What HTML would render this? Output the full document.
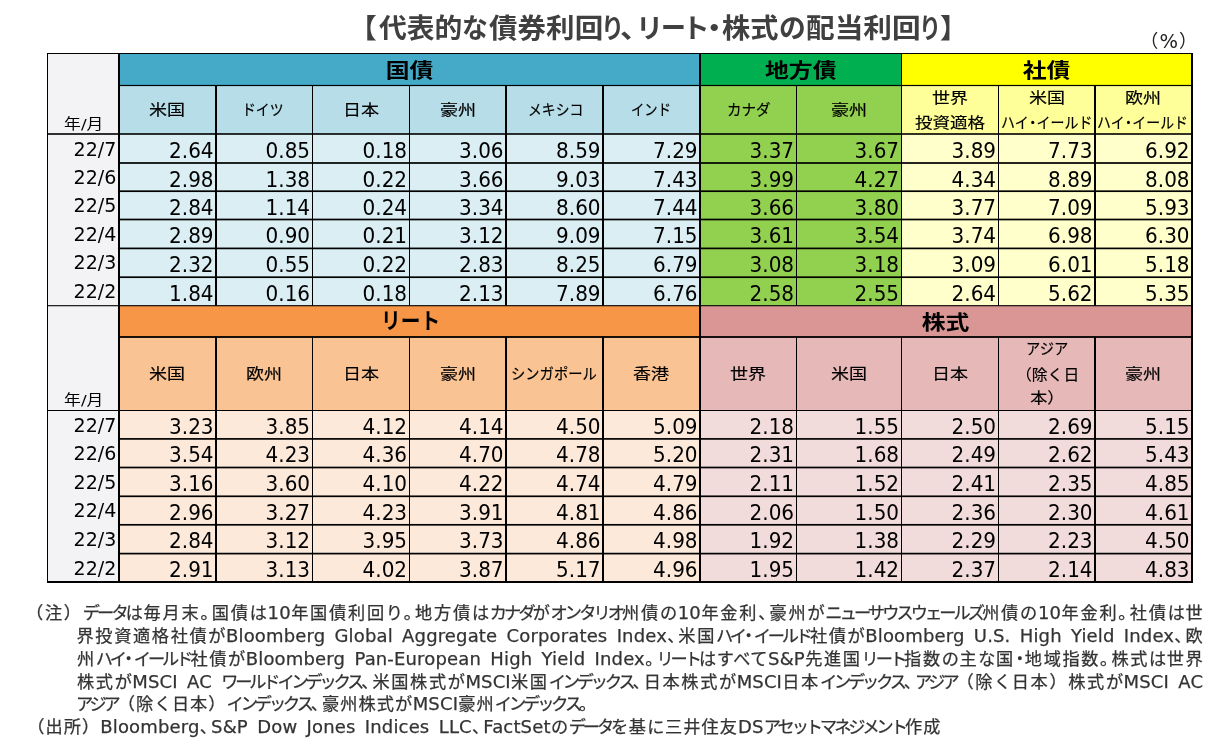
<!DOCTYPE html>
<html lang="ja"><head><meta charset="utf-8"><title>代表的な債券利回り、リート・株式の配当利回り</title>
<style>
html,body{margin:0;padding:0;background:#fff}
body{width:1229px;height:751px;position:relative;overflow:hidden;font-family:"DejaVu Sans","Liberation Sans","Noto Sans CJK JP",sans-serif;color:#000}
svg{position:absolute;left:0;top:0}
.band{position:absolute;display:flex;align-items:center;justify-content:center;font-weight:bold;font-size:22.5px;white-space:nowrap}
.band>div{position:relative;top:-0.4px;transform:scale(1.06,.9)}
.hl{-webkit-text-stroke:0.2px #000;position:absolute;height:25px;line-height:25px;font-size:17px;white-space:nowrap;transform-origin:0 50%}
.bl{position:absolute;height:30px;line-height:30px;font-size:22.5px;font-weight:bold;white-space:nowrap;transform-origin:0 50%}
.ym{position:absolute;text-align:center;font-size:15px;line-height:20px;white-space:nowrap;transform:scale(1.12,.95);transform-origin:50% 100%;margin-top:0.5px}
.yr{position:absolute;text-align:right;font-size:18.5px;white-space:nowrap;transform:scale(1.03,1.06);transform-origin:100% 28%;margin-left:0.7px}
.n{position:absolute;text-align:right;font-size:20px;white-space:nowrap;margin-top:2.55px;transform:scale(1.0,1.025);transform-origin:100% 100%}
.title{position:absolute;left:0;top:8.7px;height:40px;font-weight:bold;font-size:27px;line-height:40px;color:#404040;white-space:nowrap}
.title span{position:absolute;top:0;transform-origin:0 0}
.md{margin:0 -0.22em;letter-spacing:0}
.kn{letter-spacing:-3.3px}
.l{font-size:18px;letter-spacing:0.15px;word-spacing:3.2px}
.p{letter-spacing:-6.2px}
.hr{letter-spacing:0.3px}
.pp{font-size:18px;position:relative;top:-0.7px}
.pct{position:absolute;left:1140.3px;top:29.5px;width:56px;text-align:center;font-size:19.5px;line-height:24px;color:#222;white-space:nowrap}
.note{position:absolute;height:24px;line-height:24px;font-size:17.2px;letter-spacing:0.8px;color:#333;-webkit-text-stroke:0.25px #333;white-space:nowrap;text-align:justify;text-align-last:justify}
</style></head><body>
<svg width="1229" height="751" viewBox="0 0 1229 751" shape-rendering="auto">
<rect x="47.50" y="53.50" width="71.50" height="528.50" fill="#F3F3F5"/>
<rect x="119.00" y="53.50" width="581.00" height="32.00" fill="#45AAC7"/>
<rect x="119.00" y="85.50" width="581.00" height="48.50" fill="#B7DEE8"/>
<rect x="119.00" y="134.00" width="581.00" height="171.70" fill="#DAEEF3"/>
<rect x="700.00" y="53.50" width="201.50" height="32.00" fill="#00B050"/>
<rect x="700.00" y="85.50" width="201.50" height="48.50" fill="#92D050"/>
<rect x="700.00" y="134.00" width="201.50" height="171.70" fill="#92D050"/>
<rect x="901.50" y="53.50" width="290.50" height="32.00" fill="#FFFF00"/>
<rect x="901.50" y="85.50" width="290.50" height="48.50" fill="#FFFF99"/>
<rect x="901.50" y="134.00" width="290.50" height="171.70" fill="#FFFFCC"/>
<rect x="119.00" y="305.70" width="581.00" height="31.30" fill="#F79646"/>
<rect x="119.00" y="337.00" width="581.00" height="73.50" fill="#FAC394"/>
<rect x="119.00" y="410.50" width="581.00" height="171.50" fill="#FDE9D9"/>
<rect x="700.00" y="305.70" width="492.00" height="31.30" fill="#D99694"/>
<rect x="700.00" y="337.00" width="492.00" height="73.50" fill="#E6B8B7"/>
<rect x="700.00" y="410.50" width="492.00" height="171.50" fill="#F2DCDB"/>
<rect x="47.00" y="53.00" width="1146.00" height="1.00" fill="#000"/>
<rect x="119.00" y="84.90" width="1073.00" height="1.20" fill="#000"/>
<rect x="47.50" y="133.20" width="1144.50" height="1.60" fill="#000"/>
<rect x="119.00" y="162.15" width="1073.00" height="1.70" fill="#000"/>
<rect x="119.00" y="190.35" width="1073.00" height="1.70" fill="#000"/>
<rect x="119.00" y="218.65" width="1073.00" height="1.70" fill="#000"/>
<rect x="119.00" y="247.55" width="1073.00" height="1.70" fill="#000"/>
<rect x="119.00" y="276.35" width="1073.00" height="1.70" fill="#000"/>
<rect x="47.50" y="305.15" width="1144.50" height="1.10" fill="#000"/>
<rect x="119.00" y="336.10" width="1073.00" height="1.80" fill="#000"/>
<rect x="47.50" y="410.00" width="1144.50" height="1.00" fill="#000"/>
<rect x="119.00" y="438.05" width="1073.00" height="1.70" fill="#000"/>
<rect x="119.00" y="466.65" width="1073.00" height="1.70" fill="#000"/>
<rect x="119.00" y="495.45" width="1073.00" height="1.70" fill="#000"/>
<rect x="119.00" y="523.95" width="1073.00" height="1.70" fill="#000"/>
<rect x="119.00" y="552.75" width="1073.00" height="1.70" fill="#000"/>
<rect x="47.00" y="581.00" width="1146.00" height="2.00" fill="#000"/>
<rect x="47.00" y="53.00" width="1.00" height="530.00" fill="#000"/>
<rect x="118.00" y="53.50" width="2.00" height="528.50" fill="#000"/>
<rect x="1191.00" y="53.00" width="2.00" height="530.00" fill="#000"/>
<rect x="215.00" y="85.50" width="2.00" height="220.20" fill="#000"/>
<rect x="215.00" y="337.00" width="2.00" height="245.00" fill="#000"/>
<rect x="312.00" y="85.50" width="1.00" height="220.20" fill="#000"/>
<rect x="312.00" y="337.00" width="1.00" height="245.00" fill="#000"/>
<rect x="409.00" y="85.50" width="1.00" height="220.20" fill="#000"/>
<rect x="409.00" y="337.00" width="1.00" height="245.00" fill="#000"/>
<rect x="505.00" y="85.50" width="2.00" height="220.20" fill="#000"/>
<rect x="505.00" y="337.00" width="2.00" height="245.00" fill="#000"/>
<rect x="602.00" y="85.50" width="2.00" height="220.20" fill="#000"/>
<rect x="602.00" y="337.00" width="2.00" height="245.00" fill="#000"/>
<rect x="699.00" y="53.50" width="2.00" height="528.50" fill="#000"/>
<rect x="796.00" y="85.50" width="1.00" height="220.20" fill="#000"/>
<rect x="796.00" y="337.00" width="1.00" height="245.00" fill="#000"/>
<rect x="901.00" y="53.50" width="1.00" height="252.20" fill="#000"/>
<rect x="901.00" y="337.00" width="1.00" height="245.00" fill="#000"/>
<rect x="998.00" y="85.50" width="1.00" height="220.20" fill="#000"/>
<rect x="998.00" y="337.00" width="1.00" height="245.00" fill="#000"/>
<rect x="1094.00" y="85.50" width="2.00" height="220.20" fill="#000"/>
<rect x="1094.00" y="337.00" width="2.00" height="245.00" fill="#000"/>
</svg>
<div class="band" style="left:119.0px;top:53.5px;width:581.0px;height:32.0px"><div>国債</div></div>
<div class="band" style="left:700.0px;top:53.5px;width:201.5px;height:32.0px"><div>地方債</div></div>
<div class="band" style="left:901.5px;top:53.5px;width:290.5px;height:32.0px"><div>社債</div></div>
<div class="band" style="left:700.0px;top:305.7px;width:492.0px;height:31.3px"><div>株式</div></div>
<div class="bl" style="left:380.9px;top:306.05px;transform:scale(0.875,1.0)">リート</div>
<div class="hl" style="left:149.48px;top:97.80px;transform:scale(1.0600,0.9)">米国</div>
<div class="hl" style="left:242.32px;top:97.80px;transform:scale(0.8159,0.9)">ドイツ</div>
<div class="hl" style="left:342.98px;top:97.80px;transform:scale(1.0600,0.9)">日本</div>
<div class="hl" style="left:439.73px;top:97.80px;transform:scale(1.0600,0.9)">豪州</div>
<div class="hl" style="left:527.97px;top:97.80px;transform:scale(0.8143,0.9)">メキシコ</div>
<div class="hl" style="left:631.23px;top:97.80px;transform:scale(0.7851,0.9)">インド</div>
<div class="hl" style="left:727.29px;top:97.80px;transform:scale(0.8542,0.9)">カナダ</div>
<div class="hl" style="left:830.98px;top:97.80px;transform:scale(1.0600,0.9)">豪州</div>
<div class="hl" style="left:931.98px;top:85.70px;transform:scale(1.0600,0.9)">世界</div>
<div class="hl" style="left:914.98px;top:110.70px;transform:scale(1.0300,0.9)">投資適格</div>
<div class="hl" style="left:1028.73px;top:85.70px;transform:scale(1.0600,0.9)">米国</div>
<div class="hl" style="left:1001.25px;top:110.70px;transform:scale(0.8234,0.9)">ハイ<span class="md">・</span>イールド</div>
<div class="hl" style="left:1125.48px;top:85.70px;transform:scale(1.0600,0.9)">欧州</div>
<div class="hl" style="left:1097.36px;top:110.70px;transform:scale(0.8187,0.9)">ハイ<span class="md">・</span>イールド</div>
<div class="hl" style="left:149.48px;top:362.40px;transform:scale(1.0600,0.9)">米国</div>
<div class="hl" style="left:246.23px;top:362.40px;transform:scale(1.0600,0.9)">欧州</div>
<div class="hl" style="left:342.98px;top:362.40px;transform:scale(1.0600,0.9)">日本</div>
<div class="hl" style="left:439.73px;top:362.40px;transform:scale(1.0600,0.9)">豪州</div>
<div class="hl" style="left:633.48px;top:362.40px;transform:scale(1.0600,0.9)">香港</div>
<div class="hl" style="left:730.23px;top:362.40px;transform:scale(1.0600,0.9)">世界</div>
<div class="hl" style="left:830.98px;top:362.40px;transform:scale(1.0600,0.9)">米国</div>
<div class="hl" style="left:931.98px;top:362.40px;transform:scale(1.0600,0.9)">日本</div>
<div class="hl" style="left:1125.48px;top:362.40px;transform:scale(1.0600,0.9)">豪州</div>
<div class="hl" style="left:510.52px;top:362.40px;transform:scale(0.8414,0.9)">シンガポール</div>
<div class="hl" style="left:1025.72px;top:337.10px;transform:scale(0.8383,0.9)">アジア</div>
<div class="hl" style="left:1016.13px;top:362.90px;transform:scale(0.9300,0.9)">（除く日</div>
<div class="hl" style="left:1030.25px;top:385.70px;transform:scale(1.0000,0.9)">本）</div>
<div class="ym" style="left:47.5px;width:71.5px;top:113.0px">年/月</div>
<div class="ym" style="left:47.5px;width:71.5px;top:389.5px">年/月</div>
<div class="yr" style="left:47.5px;width:68.3px;top:134.0px;height:29.0px;line-height:29.0px">22/7</div>
<div class="n" style="left:119.0px;width:94.6px;top:134.0px;height:29.0px;line-height:29.0px">2.64</div>
<div class="n" style="left:216.0px;width:94.1px;top:134.0px;height:29.0px;line-height:29.0px">0.85</div>
<div class="n" style="left:312.5px;width:94.6px;top:134.0px;height:29.0px;line-height:29.0px">0.18</div>
<div class="n" style="left:409.5px;width:94.1px;top:134.0px;height:29.0px;line-height:29.0px">3.06</div>
<div class="n" style="left:506.0px;width:94.6px;top:134.0px;height:29.0px;line-height:29.0px">8.59</div>
<div class="n" style="left:603.0px;width:94.6px;top:134.0px;height:29.0px;line-height:29.0px">7.29</div>
<div class="n" style="left:700.0px;width:94.1px;top:134.0px;height:29.0px;line-height:29.0px">3.37</div>
<div class="n" style="left:796.5px;width:102.6px;top:134.0px;height:29.0px;line-height:29.0px">3.67</div>
<div class="n" style="left:901.5px;width:94.6px;top:134.0px;height:29.0px;line-height:29.0px">3.89</div>
<div class="n" style="left:998.5px;width:94.1px;top:134.0px;height:29.0px;line-height:29.0px">7.73</div>
<div class="n" style="left:1095.0px;width:94.6px;top:134.0px;height:29.0px;line-height:29.0px">6.92</div>
<div class="yr" style="left:47.5px;width:68.3px;top:163.0px;height:28.2px;line-height:28.2px">22/6</div>
<div class="n" style="left:119.0px;width:94.6px;top:163.0px;height:28.2px;line-height:28.2px">2.98</div>
<div class="n" style="left:216.0px;width:94.1px;top:163.0px;height:28.2px;line-height:28.2px">1.38</div>
<div class="n" style="left:312.5px;width:94.6px;top:163.0px;height:28.2px;line-height:28.2px">0.22</div>
<div class="n" style="left:409.5px;width:94.1px;top:163.0px;height:28.2px;line-height:28.2px">3.66</div>
<div class="n" style="left:506.0px;width:94.6px;top:163.0px;height:28.2px;line-height:28.2px">9.03</div>
<div class="n" style="left:603.0px;width:94.6px;top:163.0px;height:28.2px;line-height:28.2px">7.43</div>
<div class="n" style="left:700.0px;width:94.1px;top:163.0px;height:28.2px;line-height:28.2px">3.99</div>
<div class="n" style="left:796.5px;width:102.6px;top:163.0px;height:28.2px;line-height:28.2px">4.27</div>
<div class="n" style="left:901.5px;width:94.6px;top:163.0px;height:28.2px;line-height:28.2px">4.34</div>
<div class="n" style="left:998.5px;width:94.1px;top:163.0px;height:28.2px;line-height:28.2px">8.89</div>
<div class="n" style="left:1095.0px;width:94.6px;top:163.0px;height:28.2px;line-height:28.2px">8.08</div>
<div class="yr" style="left:47.5px;width:68.3px;top:191.2px;height:28.3px;line-height:28.3px">22/5</div>
<div class="n" style="left:119.0px;width:94.6px;top:191.2px;height:28.3px;line-height:28.3px">2.84</div>
<div class="n" style="left:216.0px;width:94.1px;top:191.2px;height:28.3px;line-height:28.3px">1.14</div>
<div class="n" style="left:312.5px;width:94.6px;top:191.2px;height:28.3px;line-height:28.3px">0.24</div>
<div class="n" style="left:409.5px;width:94.1px;top:191.2px;height:28.3px;line-height:28.3px">3.34</div>
<div class="n" style="left:506.0px;width:94.6px;top:191.2px;height:28.3px;line-height:28.3px">8.60</div>
<div class="n" style="left:603.0px;width:94.6px;top:191.2px;height:28.3px;line-height:28.3px">7.44</div>
<div class="n" style="left:700.0px;width:94.1px;top:191.2px;height:28.3px;line-height:28.3px">3.66</div>
<div class="n" style="left:796.5px;width:102.6px;top:191.2px;height:28.3px;line-height:28.3px">3.80</div>
<div class="n" style="left:901.5px;width:94.6px;top:191.2px;height:28.3px;line-height:28.3px">3.77</div>
<div class="n" style="left:998.5px;width:94.1px;top:191.2px;height:28.3px;line-height:28.3px">7.09</div>
<div class="n" style="left:1095.0px;width:94.6px;top:191.2px;height:28.3px;line-height:28.3px">5.93</div>
<div class="yr" style="left:47.5px;width:68.3px;top:219.5px;height:28.9px;line-height:28.9px">22/4</div>
<div class="n" style="left:119.0px;width:94.6px;top:219.5px;height:28.9px;line-height:28.9px">2.89</div>
<div class="n" style="left:216.0px;width:94.1px;top:219.5px;height:28.9px;line-height:28.9px">0.90</div>
<div class="n" style="left:312.5px;width:94.6px;top:219.5px;height:28.9px;line-height:28.9px">0.21</div>
<div class="n" style="left:409.5px;width:94.1px;top:219.5px;height:28.9px;line-height:28.9px">3.12</div>
<div class="n" style="left:506.0px;width:94.6px;top:219.5px;height:28.9px;line-height:28.9px">9.09</div>
<div class="n" style="left:603.0px;width:94.6px;top:219.5px;height:28.9px;line-height:28.9px">7.15</div>
<div class="n" style="left:700.0px;width:94.1px;top:219.5px;height:28.9px;line-height:28.9px">3.61</div>
<div class="n" style="left:796.5px;width:102.6px;top:219.5px;height:28.9px;line-height:28.9px">3.54</div>
<div class="n" style="left:901.5px;width:94.6px;top:219.5px;height:28.9px;line-height:28.9px">3.74</div>
<div class="n" style="left:998.5px;width:94.1px;top:219.5px;height:28.9px;line-height:28.9px">6.98</div>
<div class="n" style="left:1095.0px;width:94.6px;top:219.5px;height:28.9px;line-height:28.9px">6.30</div>
<div class="yr" style="left:47.5px;width:68.3px;top:248.4px;height:28.8px;line-height:28.8px">22/3</div>
<div class="n" style="left:119.0px;width:94.6px;top:248.4px;height:28.8px;line-height:28.8px">2.32</div>
<div class="n" style="left:216.0px;width:94.1px;top:248.4px;height:28.8px;line-height:28.8px">0.55</div>
<div class="n" style="left:312.5px;width:94.6px;top:248.4px;height:28.8px;line-height:28.8px">0.22</div>
<div class="n" style="left:409.5px;width:94.1px;top:248.4px;height:28.8px;line-height:28.8px">2.83</div>
<div class="n" style="left:506.0px;width:94.6px;top:248.4px;height:28.8px;line-height:28.8px">8.25</div>
<div class="n" style="left:603.0px;width:94.6px;top:248.4px;height:28.8px;line-height:28.8px">6.79</div>
<div class="n" style="left:700.0px;width:94.1px;top:248.4px;height:28.8px;line-height:28.8px">3.08</div>
<div class="n" style="left:796.5px;width:102.6px;top:248.4px;height:28.8px;line-height:28.8px">3.18</div>
<div class="n" style="left:901.5px;width:94.6px;top:248.4px;height:28.8px;line-height:28.8px">3.09</div>
<div class="n" style="left:998.5px;width:94.1px;top:248.4px;height:28.8px;line-height:28.8px">6.01</div>
<div class="n" style="left:1095.0px;width:94.6px;top:248.4px;height:28.8px;line-height:28.8px">5.18</div>
<div class="yr" style="left:47.5px;width:68.3px;top:277.2px;height:28.5px;line-height:28.5px">22/2</div>
<div class="n" style="left:119.0px;width:94.6px;top:277.2px;height:28.5px;line-height:28.5px">1.84</div>
<div class="n" style="left:216.0px;width:94.1px;top:277.2px;height:28.5px;line-height:28.5px">0.16</div>
<div class="n" style="left:312.5px;width:94.6px;top:277.2px;height:28.5px;line-height:28.5px">0.18</div>
<div class="n" style="left:409.5px;width:94.1px;top:277.2px;height:28.5px;line-height:28.5px">2.13</div>
<div class="n" style="left:506.0px;width:94.6px;top:277.2px;height:28.5px;line-height:28.5px">7.89</div>
<div class="n" style="left:603.0px;width:94.6px;top:277.2px;height:28.5px;line-height:28.5px">6.76</div>
<div class="n" style="left:700.0px;width:94.1px;top:277.2px;height:28.5px;line-height:28.5px">2.58</div>
<div class="n" style="left:796.5px;width:102.6px;top:277.2px;height:28.5px;line-height:28.5px">2.55</div>
<div class="n" style="left:901.5px;width:94.6px;top:277.2px;height:28.5px;line-height:28.5px">2.64</div>
<div class="n" style="left:998.5px;width:94.1px;top:277.2px;height:28.5px;line-height:28.5px">5.62</div>
<div class="n" style="left:1095.0px;width:94.6px;top:277.2px;height:28.5px;line-height:28.5px">5.35</div>
<div class="yr" style="left:47.5px;width:68.3px;top:410.5px;height:28.4px;line-height:28.4px">22/7</div>
<div class="n" style="left:119.0px;width:94.6px;top:410.5px;height:28.4px;line-height:28.4px">3.23</div>
<div class="n" style="left:216.0px;width:94.1px;top:410.5px;height:28.4px;line-height:28.4px">3.85</div>
<div class="n" style="left:312.5px;width:94.6px;top:410.5px;height:28.4px;line-height:28.4px">4.12</div>
<div class="n" style="left:409.5px;width:94.1px;top:410.5px;height:28.4px;line-height:28.4px">4.14</div>
<div class="n" style="left:506.0px;width:94.6px;top:410.5px;height:28.4px;line-height:28.4px">4.50</div>
<div class="n" style="left:603.0px;width:94.6px;top:410.5px;height:28.4px;line-height:28.4px">5.09</div>
<div class="n" style="left:700.0px;width:94.1px;top:410.5px;height:28.4px;line-height:28.4px">2.18</div>
<div class="n" style="left:796.5px;width:102.6px;top:410.5px;height:28.4px;line-height:28.4px">1.55</div>
<div class="n" style="left:901.5px;width:94.6px;top:410.5px;height:28.4px;line-height:28.4px">2.50</div>
<div class="n" style="left:998.5px;width:94.1px;top:410.5px;height:28.4px;line-height:28.4px">2.69</div>
<div class="n" style="left:1095.0px;width:94.6px;top:410.5px;height:28.4px;line-height:28.4px">5.15</div>
<div class="yr" style="left:47.5px;width:68.3px;top:438.9px;height:28.6px;line-height:28.6px">22/6</div>
<div class="n" style="left:119.0px;width:94.6px;top:438.9px;height:28.6px;line-height:28.6px">3.54</div>
<div class="n" style="left:216.0px;width:94.1px;top:438.9px;height:28.6px;line-height:28.6px">4.23</div>
<div class="n" style="left:312.5px;width:94.6px;top:438.9px;height:28.6px;line-height:28.6px">4.36</div>
<div class="n" style="left:409.5px;width:94.1px;top:438.9px;height:28.6px;line-height:28.6px">4.70</div>
<div class="n" style="left:506.0px;width:94.6px;top:438.9px;height:28.6px;line-height:28.6px">4.78</div>
<div class="n" style="left:603.0px;width:94.6px;top:438.9px;height:28.6px;line-height:28.6px">5.20</div>
<div class="n" style="left:700.0px;width:94.1px;top:438.9px;height:28.6px;line-height:28.6px">2.31</div>
<div class="n" style="left:796.5px;width:102.6px;top:438.9px;height:28.6px;line-height:28.6px">1.68</div>
<div class="n" style="left:901.5px;width:94.6px;top:438.9px;height:28.6px;line-height:28.6px">2.49</div>
<div class="n" style="left:998.5px;width:94.1px;top:438.9px;height:28.6px;line-height:28.6px">2.62</div>
<div class="n" style="left:1095.0px;width:94.6px;top:438.9px;height:28.6px;line-height:28.6px">5.43</div>
<div class="yr" style="left:47.5px;width:68.3px;top:467.5px;height:28.8px;line-height:28.8px">22/5</div>
<div class="n" style="left:119.0px;width:94.6px;top:467.5px;height:28.8px;line-height:28.8px">3.16</div>
<div class="n" style="left:216.0px;width:94.1px;top:467.5px;height:28.8px;line-height:28.8px">3.60</div>
<div class="n" style="left:312.5px;width:94.6px;top:467.5px;height:28.8px;line-height:28.8px">4.10</div>
<div class="n" style="left:409.5px;width:94.1px;top:467.5px;height:28.8px;line-height:28.8px">4.22</div>
<div class="n" style="left:506.0px;width:94.6px;top:467.5px;height:28.8px;line-height:28.8px">4.74</div>
<div class="n" style="left:603.0px;width:94.6px;top:467.5px;height:28.8px;line-height:28.8px">4.79</div>
<div class="n" style="left:700.0px;width:94.1px;top:467.5px;height:28.8px;line-height:28.8px">2.11</div>
<div class="n" style="left:796.5px;width:102.6px;top:467.5px;height:28.8px;line-height:28.8px">1.52</div>
<div class="n" style="left:901.5px;width:94.6px;top:467.5px;height:28.8px;line-height:28.8px">2.41</div>
<div class="n" style="left:998.5px;width:94.1px;top:467.5px;height:28.8px;line-height:28.8px">2.35</div>
<div class="n" style="left:1095.0px;width:94.6px;top:467.5px;height:28.8px;line-height:28.8px">4.85</div>
<div class="yr" style="left:47.5px;width:68.3px;top:496.3px;height:28.5px;line-height:28.5px">22/4</div>
<div class="n" style="left:119.0px;width:94.6px;top:496.3px;height:28.5px;line-height:28.5px">2.96</div>
<div class="n" style="left:216.0px;width:94.1px;top:496.3px;height:28.5px;line-height:28.5px">3.27</div>
<div class="n" style="left:312.5px;width:94.6px;top:496.3px;height:28.5px;line-height:28.5px">4.23</div>
<div class="n" style="left:409.5px;width:94.1px;top:496.3px;height:28.5px;line-height:28.5px">3.91</div>
<div class="n" style="left:506.0px;width:94.6px;top:496.3px;height:28.5px;line-height:28.5px">4.81</div>
<div class="n" style="left:603.0px;width:94.6px;top:496.3px;height:28.5px;line-height:28.5px">4.86</div>
<div class="n" style="left:700.0px;width:94.1px;top:496.3px;height:28.5px;line-height:28.5px">2.06</div>
<div class="n" style="left:796.5px;width:102.6px;top:496.3px;height:28.5px;line-height:28.5px">1.50</div>
<div class="n" style="left:901.5px;width:94.6px;top:496.3px;height:28.5px;line-height:28.5px">2.36</div>
<div class="n" style="left:998.5px;width:94.1px;top:496.3px;height:28.5px;line-height:28.5px">2.30</div>
<div class="n" style="left:1095.0px;width:94.6px;top:496.3px;height:28.5px;line-height:28.5px">4.61</div>
<div class="yr" style="left:47.5px;width:68.3px;top:524.8px;height:28.8px;line-height:28.8px">22/3</div>
<div class="n" style="left:119.0px;width:94.6px;top:524.8px;height:28.8px;line-height:28.8px">2.84</div>
<div class="n" style="left:216.0px;width:94.1px;top:524.8px;height:28.8px;line-height:28.8px">3.12</div>
<div class="n" style="left:312.5px;width:94.6px;top:524.8px;height:28.8px;line-height:28.8px">3.95</div>
<div class="n" style="left:409.5px;width:94.1px;top:524.8px;height:28.8px;line-height:28.8px">3.73</div>
<div class="n" style="left:506.0px;width:94.6px;top:524.8px;height:28.8px;line-height:28.8px">4.86</div>
<div class="n" style="left:603.0px;width:94.6px;top:524.8px;height:28.8px;line-height:28.8px">4.98</div>
<div class="n" style="left:700.0px;width:94.1px;top:524.8px;height:28.8px;line-height:28.8px">1.92</div>
<div class="n" style="left:796.5px;width:102.6px;top:524.8px;height:28.8px;line-height:28.8px">1.38</div>
<div class="n" style="left:901.5px;width:94.6px;top:524.8px;height:28.8px;line-height:28.8px">2.29</div>
<div class="n" style="left:998.5px;width:94.1px;top:524.8px;height:28.8px;line-height:28.8px">2.23</div>
<div class="n" style="left:1095.0px;width:94.6px;top:524.8px;height:28.8px;line-height:28.8px">4.50</div>
<div class="yr" style="left:47.5px;width:68.3px;top:553.6px;height:28.4px;line-height:28.4px">22/2</div>
<div class="n" style="left:119.0px;width:94.6px;top:553.6px;height:28.4px;line-height:28.4px">2.91</div>
<div class="n" style="left:216.0px;width:94.1px;top:553.6px;height:28.4px;line-height:28.4px">3.13</div>
<div class="n" style="left:312.5px;width:94.6px;top:553.6px;height:28.4px;line-height:28.4px">4.02</div>
<div class="n" style="left:409.5px;width:94.1px;top:553.6px;height:28.4px;line-height:28.4px">3.87</div>
<div class="n" style="left:506.0px;width:94.6px;top:553.6px;height:28.4px;line-height:28.4px">5.17</div>
<div class="n" style="left:603.0px;width:94.6px;top:553.6px;height:28.4px;line-height:28.4px">4.96</div>
<div class="n" style="left:700.0px;width:94.1px;top:553.6px;height:28.4px;line-height:28.4px">1.95</div>
<div class="n" style="left:796.5px;width:102.6px;top:553.6px;height:28.4px;line-height:28.4px">1.42</div>
<div class="n" style="left:901.5px;width:94.6px;top:553.6px;height:28.4px;line-height:28.4px">2.37</div>
<div class="n" style="left:998.5px;width:94.1px;top:553.6px;height:28.4px;line-height:28.4px">2.14</div>
<div class="n" style="left:1095.0px;width:94.6px;top:553.6px;height:28.4px;line-height:28.4px">4.83</div>
<div class="title"><span style="left:348.85px;transform:scaleX(1.0250)">【</span><span style="left:378.70px;transform:scaleX(1.0291)">代表的</span><span style="left:462.19px;transform:scaleX(0.9565)">な</span><span style="left:488.60px;transform:scaleX(1.0575)">債券利回</span><span style="left:601.31px;transform:scaleX(0.8588)">り</span><span style="left:620.48px;transform:scaleX(1.1125)">、</span><span style="left:636.37px;transform:scaleX(1.0059)">リ</span><span style="left:660.66px;transform:scaleX(0.9217)">ー</span><span style="left:681.99px;transform:scaleX(1.0267)">ト</span><span style="left:699.93px;transform:scaleX(1.0571)">・</span><span style="left:721.66px;transform:scaleX(1.0442)">株式</span><span style="left:779.22px;transform:scaleX(0.9913)">の</span><span style="left:806.14px;transform:scaleX(1.0619)">配当利回</span><span style="left:919.41px;transform:scaleX(0.8176)">り</span><span style="left:939.58px;transform:scaleX(1.0250)">】</span></div>
<div class="pct"><span class="pp" style="margin-right:1.2px">（</span>%<span class="pp" style="margin-left:1px">）</span></div>
<div class="note" id="n0" style="left:26px;width:1178.2px;top:600.5px;letter-spacing:1.35px">（注）<span class="kn">データ</span><span class="hr">は</span>毎月末<span class="p">。</span>国債<span class="hr">は</span><span class="l">10</span>年国債利回<span class="hr">り</span><span class="p">。</span>地方債<span class="hr">は</span><span class="kn">カナダ</span><span class="hr">が</span><span class="kn">オンタリオ</span>州債<span class="hr">の</span><span class="l">10</span>年金利<span class="p">、</span>豪州<span class="hr">が</span><span class="kn">ニューサウスウェールズ</span>州債<span class="hr">の</span><span class="l">10</span>年金利<span class="p">。</span>社債<span class="hr">は</span>世</div>
<div class="note" id="n1" style="left:76.5px;width:1127.7px;top:624.0px;letter-spacing:1.45px">界投資適格社債<span class="hr">が</span><span class="l">Bloomberg Global Aggregate Corporates Index</span><span class="p">、</span>米国<span class="kn">ハイ</span><span class="md">・</span><span class="kn">イールド</span>社債<span class="hr">が</span><span class="l">Bloomberg U.S. High Yield Index</span><span class="p">、</span>欧</div>
<div class="note" id="n2" style="left:77px;width:1127.2px;top:647.0px;letter-spacing:1.35px">州<span class="kn">ハイ</span><span class="md">・</span><span class="kn">イールド</span>社債<span class="hr">が</span><span class="l">Bloomberg Pan-European High Yield Index</span><span class="p">。</span><span class="kn">リート</span><span class="hr">はすべて</span><span class="l">S&amp;P</span>先進国<span class="kn">リート</span>指数<span class="hr">の</span>主<span class="hr">な</span>国<span class="md">・</span>地域指数<span class="p">。</span>株式<span class="hr">は</span>世界</div>
<div class="note" id="n3" style="left:77px;width:1126.2px;top:669.5px;letter-spacing:1.45px">株式<span class="hr">が</span><span class="l">MSCI AC </span><span class="kn">ワールドインデックス</span><span class="p">、</span>米国株式<span class="hr">が</span><span class="l">MSCI</span>米国<span class="kn">インデックス</span><span class="p">、</span>日本株式<span class="hr">が</span><span class="l">MSCI</span>日本<span class="kn">インデックス</span><span class="p">、</span><span class="kn">アジア</span>（除<span class="hr">く</span>日本）株式<span class="hr">が</span><span class="l">MSCI AC</span></div>
<div class="note" id="n4" style="left:76px;width:514px;top:692.3px;letter-spacing:0.8px"><span class="kn">アジア</span>（除<span class="hr">く</span>日本）<span class="kn">インデックス</span><span class="p">、</span>豪州株式<span class="hr">が</span><span class="l">MSCI</span>豪州<span class="kn">インデックス</span><span class="p">。</span></div>
<div class="note" id="n5" style="left:27.3px;width:913.9000000000001px;top:715.0px;letter-spacing:0.8px">（出所）<span class="l">Bloomberg</span><span class="p">、</span><span class="l">S&amp;P Dow Jones Indices LLC</span><span class="p">、</span><span class="l">FactSet</span><span class="hr">の</span><span class="kn">データ</span><span class="hr">を</span>基<span class="hr">に</span>三井住友<span class="l">DS</span><span class="kn">アセットマネジメント</span>作成</div>
</body></html>
